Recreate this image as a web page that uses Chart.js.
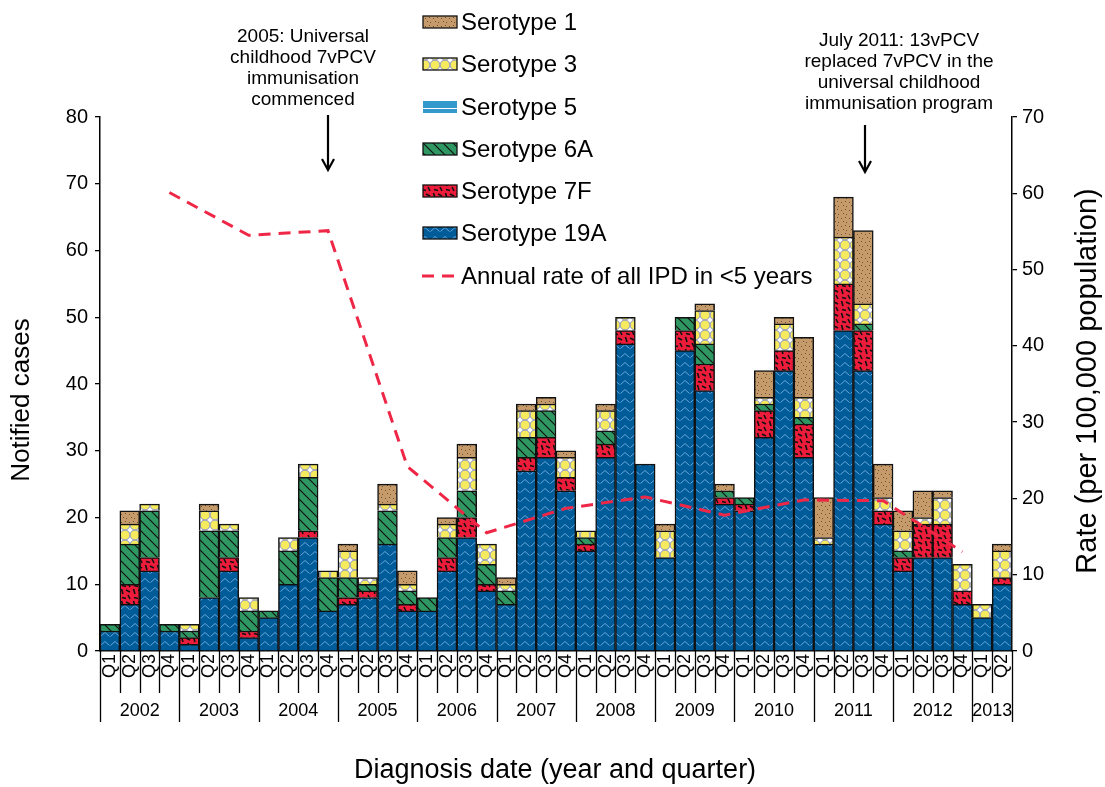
<!DOCTYPE html>
<html>
<head>
<meta charset="utf-8">
<script src="https://cdn.jsdelivr.net/npm/chart.js@4.4.0/dist/chart.umd.min.js"></script>
<style>
  html, body { margin: 0; padding: 0; background: #fff; }
</style>
</head>
<body>
<canvas id="ipdChart" width="1105" height="787"></canvas>
<script>
'use strict';

var FONT = '"Liberation Sans", Arial, sans-serif';

// quarters 2002 Q1 .. 2013 Q2
var years = ['2002', '2003', '2004', '2005', '2006', '2007', '2008', '2009', '2010', '2011', '2012', '2013'];
var quarters = [];
years.forEach(function (y) {
    ['Q1', 'Q2', 'Q3', 'Q4'].forEach(function (q) {
        if (y === '2013' && (q === 'Q3' || q === 'Q4')) { return; }
        quarters.push(q);
    });
});

// notified cases per quarter
var sero19A = [3, 7, 12, 3, 1, 8, 12, 2, 5, 10, 17, 6, 7, 8, 16, 6, 6, 12, 17, 9, 7, 27, 29, 24,
               15, 29, 46, 28, 14, 45, 39, 22, 21, 32, 42, 29, 16, 48, 42, 19, 12, 14, 14, 7, 5, 10];
var sero7F  = [0, 3, 2, 0, 1, 0, 2, 1, 0, 0, 1, 0, 1, 1, 0, 1, 0, 2, 3, 1, 0, 2, 3, 2,
               1, 2, 2, 0, 0, 3, 4, 1, 1, 4, 3, 5, 0, 7, 6, 2, 2, 5, 5, 2, 0, 1];
var sero6A  = [1, 6, 7, 1, 1, 10, 4, 3, 1, 5, 8, 5, 3, 1, 5, 2, 2, 3, 4, 3, 2, 3, 4, 0,
               1, 2, 0, 0, 0, 2, 3, 1, 1, 1, 0, 1, 0, 0, 1, 0, 1, 0, 0, 0, 0, 0];
var sero5   = [0, 0, 0, 0, 0, 0, 0, 0, 0, 0, 0, 0, 0, 0, 0, 0, 0, 0, 0, 0, 0, 0, 0, 0,
               0, 0, 0, 0, 0, 0, 0, 0, 0, 0, 0, 0, 0, 0, 0, 0, 0, 0, 0, 0, 0, 0];
var sero3   = [0, 3, 1, 0, 1, 3, 1, 2, 0, 2, 2, 1, 4, 1, 1, 1, 0, 2, 5, 3, 1, 4, 1, 3,
               1, 3, 2, 0, 4, 0, 5, 0, 0, 1, 4, 3, 1, 7, 3, 2, 3, 1, 4, 4, 2, 4];
var sero1   = [0, 2, 0, 0, 0, 1, 0, 0, 0, 0, 0, 0, 1, 0, 3, 2, 0, 1, 2, 0, 1, 1, 1, 1,
               0, 1, 0, 0, 1, 0, 1, 1, 0, 4, 1, 9, 6, 6, 11, 5, 3, 4, 1, 0, 0, 1];

// annual rate of all IPD in <5 years (per 100,000), 2002..2012
var annualRate = [60.1, 54.5, 55.1, 24.2, 15.5, 18.7, 20.2, 17.8, 19.8, 19.7, 13.0];

var leftTicks = [0, 10, 20, 30, 40, 50, 60, 70, 80];
var rightTicks = [0, 10, 20, 30, 40, 50, 60, 70];

// ---- fill patterns ----
function makePattern(w, h, draw) {
    var c = document.createElement('canvas');
    c.width = w;
    c.height = h;
    var g = c.getContext('2d');
    draw(g, w, h);
    return g.createPattern(c, 'repeat');
}

var fill19A = makePattern(10, 9, function (g, w, h) {
    g.fillStyle = '#005b99';
    g.fillRect(0, 0, w, h);
    g.strokeStyle = '#6aa6dc';
    g.lineWidth = 1;
    g.beginPath();
    g.moveTo(0.5, 6.5); g.lineTo(5, 2.5); g.lineTo(9.5, 6.5);
    g.stroke();
});
var fill7F = makePattern(12, 12, function (g, w, h) {
    g.fillStyle = '#ec1c3a';
    g.fillRect(0, 0, w, h);
    g.strokeStyle = '#111';
    g.lineWidth = 1.6;
    g.beginPath();
    g.moveTo(1.5, 1); g.lineTo(3, 6);
    g.moveTo(6, 2); g.lineTo(10, 4);
    g.moveTo(8, 7); g.lineTo(10, 11);
    g.moveTo(2, 9.5); g.lineTo(6, 10.5);
    g.stroke();
});
var fill6A = makePattern(10, 10, function (g, w, h) {
    g.fillStyle = '#2f9862';
    g.fillRect(0, 0, w, h);
    g.strokeStyle = '#111';
    g.lineWidth = 1.2;
    g.beginPath();
    g.moveTo(0, 0); g.lineTo(10, 10);
    g.moveTo(-1, 9); g.lineTo(1, 11);
    g.moveTo(9, -1); g.lineTo(11, 1);
    g.stroke();
});
var fill5 = makePattern(8, 8, function (g, w, h) {
    g.fillStyle = '#3399cc';
    g.fillRect(0, 0, w, h);
    g.fillStyle = '#ffffff';
    g.fillRect(0, 4, w, 1);
});
var fill3 = makePattern(10, 10, function (g, w, h) {
    g.fillStyle = '#ffffff';
    g.fillRect(0, 0, w, h);
    g.fillStyle = '#f6ea5e';
    g.strokeStyle = '#8b93c6';
    g.lineWidth = 1;
    g.beginPath();
    g.arc(5, 5, 4.9, 0, Math.PI * 2);
    g.fill();
    g.stroke();
});
var fill1 = makePattern(8, 8, function (g, w, h) {
    g.fillStyle = '#c59b6b';
    g.fillRect(0, 0, w, h);
    g.fillStyle = '#6e4f30';
    g.fillRect(1, 2, 1, 1);
    g.fillRect(5, 1, 1, 1);
    g.fillRect(3, 5, 1, 1);
    g.fillRect(6, 6, 1, 1);
});

var lineColor = '#ef2747';

// line points sit on the Q4 of each year
var rateSeries = quarters.map(function (q, i) {
    return (i % 4 === 3 && (i - 3) / 4 < annualRate.length) ? annualRate[(i - 3) / 4] : null;
});

function barSet(label, data, fill) {
    return {
        type: 'bar',
        label: label,
        data: data,
        backgroundColor: fill,
        borderColor: '#111',
        borderWidth: 1.5,
        barPercentage: 1,
        categoryPercentage: 1,
        yAxisID: 'y',
        order: 2
    };
}

var legendItems = [
    { label: 'Serotype 1', fill: fill1, y: 22 },
    { label: 'Serotype 3', fill: fill3, y: 64 },
    { label: 'Serotype 5', fill: fill5, y: 107, noBorder: true },
    { label: 'Serotype 6A', fill: fill6A, y: 149 },
    { label: 'Serotype 7F', fill: fill7F, y: 191 },
    { label: 'Serotype 19A', fill: fill19A, y: 233 }
];

var decor = {
    id: 'decor',
    afterDraw: function (chart) {
        var ctx = chart.ctx,
            xs = chart.scales.x,
            area = chart.chartArea,
            step = (area.right - area.left) / quarters.length;

        ctx.save();
        ctx.strokeStyle = '#000';
        ctx.lineWidth = 1.3;
        for (var i = 0; i <= quarters.length; i++) {
            var px = Math.round(area.left + i * step) + 0.5;
            var yearEdge = (i % 4 === 0) || i === quarters.length;
            ctx.beginPath();
            ctx.moveTo(px, area.bottom);
            ctx.lineTo(px, yearEdge ? 722 : 693);
            ctx.stroke();
        }

        ctx.fillStyle = '#000';
        ctx.textAlign = 'center';
        ctx.textBaseline = 'middle';
        ctx.font = '18px ' + FONT;
        years.forEach(function (yr, k) {
            var first = k * 4, last = Math.min(first + 3, quarters.length - 1);
            var cx = (xs.getPixelForValue(first) + xs.getPixelForValue(last)) / 2;
            ctx.fillText(yr, cx, 711);
        });

        // axis titles
        ctx.font = '27px ' + FONT;
        ctx.fillText('Diagnosis date (year and quarter)', 555, 771);
        ctx.font = '26px ' + FONT;
        ctx.save();
        ctx.translate(22, 400);
        ctx.rotate(-Math.PI / 2);
        ctx.fillText('Notified cases', 0, 0);
        ctx.restore();
        ctx.font = '29px ' + FONT;
        ctx.save();
        ctx.translate(1088, 381);
        ctx.rotate(-Math.PI / 2);
        ctx.fillText('Rate (per 100,000 population)', 0, 0);
        ctx.restore();

        // legend
        ctx.textAlign = 'left';
        ctx.font = '24px ' + FONT;
        legendItems.forEach(function (it) {
            ctx.fillStyle = it.fill;
            ctx.fillRect(423, it.y - 6, 34, 12);
            if (!it.noBorder) {
                ctx.strokeStyle = '#111';
                ctx.lineWidth = 1.3;
                ctx.strokeRect(423, it.y - 6, 34, 12);
            }
            ctx.fillStyle = '#000';
            ctx.fillText(it.label, 461, it.y + 1);
        });
        ctx.strokeStyle = lineColor;
        ctx.lineWidth = 3;
        ctx.setLineDash([12, 8]);
        ctx.beginPath();
        ctx.moveTo(422, 276);
        ctx.lineTo(454, 276);
        ctx.stroke();
        ctx.setLineDash([]);
        ctx.fillStyle = '#000';
        ctx.fillText('Annual rate of all IPD in <5 years', 461, 277);

        // annotations
        ctx.textAlign = 'center';
        ctx.font = '19px ' + FONT;
        ['2005: Universal', 'childhood 7vPCV', 'immunisation', 'commenced'].forEach(function (t, k) {
            ctx.fillText(t, 303, 37 + k * 21);
        });
        ['July 2011: 13vPCV', 'replaced 7vPCV in the', 'universal childhood', 'immunisation program'].forEach(function (t, k) {
            ctx.fillText(t, 899, 41 + k * 21);
        });

        function arrow(x, y0, y1) {
            ctx.strokeStyle = '#000';
            ctx.lineWidth = 2.2;
            ctx.beginPath();
            ctx.moveTo(x, y0);
            ctx.lineTo(x, y1);
            ctx.moveTo(x - 6, y1 - 11);
            ctx.lineTo(x, y1);
            ctx.lineTo(x + 6, y1 - 11);
            ctx.stroke();
        }
        arrow(328, 115, 170);
        arrow(865, 125, 172);
        ctx.restore();
    }
};

var ipdChart = new Chart(document.getElementById('ipdChart'), {
    data: {
        labels: quarters,
        datasets: [
            {
                type: 'line',
                label: 'Annual rate of all IPD in <5 years',
                data: rateSeries,
                yAxisID: 'y2',
                borderColor: lineColor,
                borderWidth: 3,
                borderDash: [12, 8],
                pointRadius: 0,
                tension: 0,
                spanGaps: true,
                fill: false,
                order: 1
            },
            barSet('Serotype 19A', sero19A, fill19A),
            barSet('Serotype 7F', sero7F, fill7F),
            barSet('Serotype 6A', sero6A, fill6A),
            barSet('Serotype 5', sero5, fill5),
            barSet('Serotype 3', sero3, fill3),
            barSet('Serotype 1', sero1, fill1)
        ]
    },
    options: {
        responsive: false,
        animation: false,
        layout: { padding: { top: 117, left: 0, right: 0, bottom: 0 } },
        plugins: {
            legend: { display: false },
            tooltip: { enabled: false }
        },
        scales: {
            x: {
                stacked: true,
                grid: { display: false, drawTicks: false },
                border: { display: true, color: '#000', width: 1.5 },
                ticks: {
                    autoSkip: false,
                    minRotation: 90,
                    maxRotation: 90,
                    padding: 3,
                    color: '#000',
                    font: { family: FONT, size: 18 }
                },
                afterFit: function (s) { s.height = 136; }
            },
            y: {
                stacked: true,
                position: 'left',
                min: 0,
                max: 80,
                afterBuildTicks: function (s) {
                    s.ticks = leftTicks.map(function (v) { return { value: v }; });
                },
                grid: { drawOnChartArea: false, color: '#000', tickLength: 5, lineWidth: 1.3 },
                border: { display: true, color: '#000', width: 1.5 },
                ticks: { padding: 7, color: '#000', font: { family: FONT, size: 20 } },
                afterFit: function (s) { s.width = 100; }
            },
            y2: {
                position: 'right',
                min: 0,
                max: 70,
                afterBuildTicks: function (s) {
                    s.ticks = rightTicks.map(function (v) { return { value: v }; });
                },
                grid: { drawOnChartArea: false, color: '#000', tickLength: 5, lineWidth: 1.3 },
                border: { display: true, color: '#000', width: 1.5 },
                ticks: { padding: 5, color: '#000', font: { family: FONT, size: 20 } },
                afterFit: function (s) { s.width = 93; }
            }
        }
    },
    plugins: [decor]
});
</script>
</body>
</html>
